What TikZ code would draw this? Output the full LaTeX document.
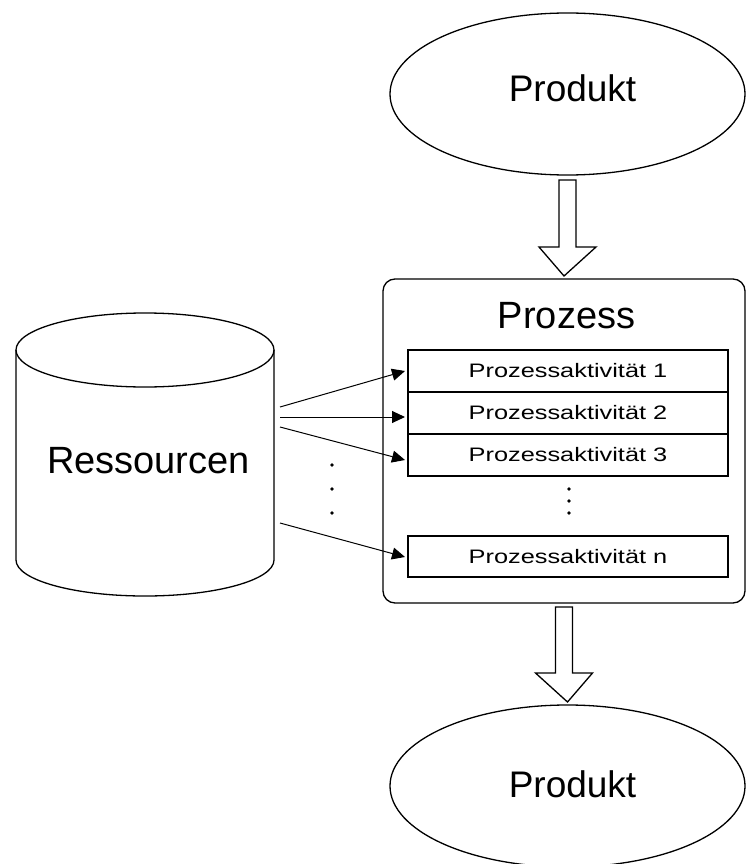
\documentclass[tikz,border=0pt]{standalone}
\usepackage{fontspec}
\setmainfont{Liberation Sans}
\usetikzlibrary{shapes.geometric,arrows.meta,calc}

% hollow block arrow from the first point down to the second one
\newcommand\hollowarrow[2]{%
  \draw[outline] let \p1=(#1), \p2=(#2) in
    (\x1-8.5pt,\y1) -- (\x1+8.5pt,\y1) -- (\x1+8.5pt,\y2+29pt)
    -- (\x1+28.5pt,\y2+29pt) -- (\x2,\y2) -- (\x1-28.5pt,\y2+29pt)
    -- (\x1-8.5pt,\y2+29pt) -- cycle;}

\tikzset{
  outline/.style={draw=black, line width=1.3pt},
  bigtext/.style={font=\fontsize{37}{40}\selectfont, anchor=base},
  product/.style={ellipse, outline, inner sep=0pt, outer sep=0pt,
    minimum width=355, minimum height=162},
  activity/.style={rectangle, outline, inner sep=0pt, outer sep=0pt,
    minimum width=320, minimum height=42},
  acttext/.style={font=\fontsize{19.5}{21}\selectfont},
  feed/.style={draw=black, line width=1pt,
    -{Triangle[length=13pt,width=12pt]}},
  dot/.style={fill=black, circle, inner sep=0pt, minimum size=3.6pt},
}

\newcommand\acttxt[1]{\scalebox{1.3}[1]{#1}}

\begin{document}
\begin{tikzpicture}[x=1pt,y=-1pt]
\useasboundingbox (0,0) rectangle (746,864);
\fill[white] (0,0) rectangle (746,864);

% products
\node[product] (prodin) at (567.5,94) {};
\node[bigtext] (prodintext) at (572.5,102) {Produkt};
\node[product] (prodout) at (567.5,786) {};
\node[bigtext] (prodouttext) at (572.5,797) {Produkt};

% process frame
\node[outline, rectangle, rounded corners=12pt, inner sep=0pt, outer sep=0pt,
      minimum width=362, minimum height=324] (proc) at (564,441) {};
\node[bigtext, font=\fontsize{38}{40}\selectfont] (proctitle) at (566.5,328) {Prozess};

% activities
\node[activity, acttext] (r1) at (568,371) {\acttxt{Prozessaktivität 1}};
\node[activity, acttext] (r2) at (568,413) {\acttxt{Prozessaktivität 2}};
\node[activity, acttext] (r3) at (568,455) {\acttxt{Prozessaktivität 3}};
\node[activity, acttext, minimum height=41] (rn) at (568,556.5) {\acttxt{Prozessaktivität n}};

\node[dot] (d1) at (569,489) {};
\node[dot] (d2) at (569,501) {};
\node[dot] (d3) at (569,513) {};

% resources cylinder
\draw[outline] (16,350) -- (16,560)
  arc[start angle=180, end angle=0, x radius=129, y radius=36] -- (274,350);
\draw[outline] (145,350) ellipse [x radius=129, y radius=37];
\node[bigtext, font=\fontsize{38}{40}\selectfont] (res) at (148.5,473) {Ressourcen};

\coordinate (c1) at (280,407);
\coordinate (c2) at (280,417);
\coordinate (c3) at (280,427);
\coordinate (c4) at (280,523);

\draw[feed] (c1) -- ($(r1.west)+(-3,0)$);
\draw[feed] (c2) -- ($(r2.west)+(-3,4)$);
\draw[feed] (c3) -- ($(r3.west)+(-3,5)$);
\draw[feed] (c4) -- ($(rn.west)+(-3,0.5)$);

\node[dot] (e1) at (332,465) {};
\node[dot] (e2) at (332,489) {};
\node[dot] (e3) at (332,513) {};

% flow of the product through the process
\hollowarrow{$(prodin.south)+(0,5)$}{$(proc.north)+(0,-3)$}
\hollowarrow{$(proc.south)+(0,4)$}{$(prodout.north)+(0,-3)$}
\end{tikzpicture}
\end{document}
